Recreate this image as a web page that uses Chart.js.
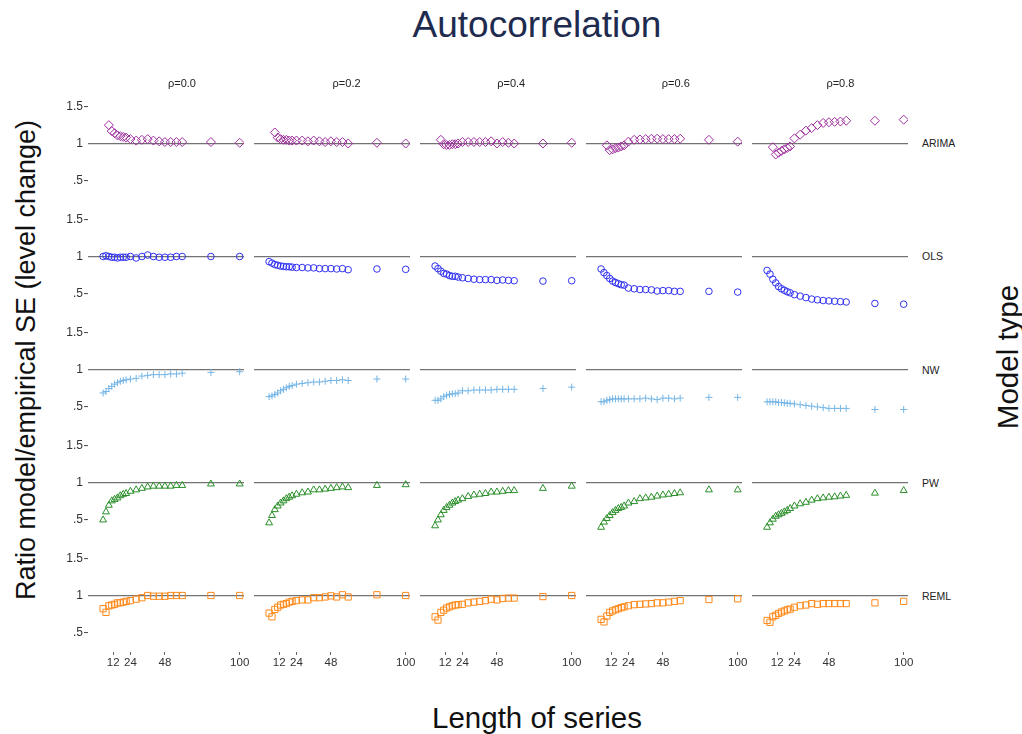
<!DOCTYPE html>
<html lang="en">
<head>
<meta charset="UTF-8">
<title>Autocorrelation</title>
<script src="https://cdn.jsdelivr.net/npm/chart.js"></script>
<style>
  body { margin: 0; background: #fff; font-family: "Liberation Sans", Arial, sans-serif; color: #333; }
  #page { position: relative; width: 1022px; height: 734px; overflow: hidden; }
  .panel { position: absolute; }
  .txt { position: absolute; white-space: nowrap; transform: translate(-50%, -50%); }
  .title { font-size: 37px; color: #1e2b4f; }
  .strip { font-size: 11px; color: #222; }
  .rowlab { font-size: 10.5px; color: #222; transform: translate(0, -50%); }
  .axtitle { font-size: 29.5px; color: #111; }
  .ytitle { font-size: 27px; color: #111; }
</style>
</head>
<body>
<div id="page"></div>
<script>
// facets and axes
const rhoLabels = ['ρ=0.0', 'ρ=0.2', 'ρ=0.4', 'ρ=0.6', 'ρ=0.8'];
const modelNames = ['ARIMA', 'OLS', 'NW', 'PW', 'REML'];
const seriesLength = [5, 7, 9, 11, 13, 15, 17, 19, 21, 24, 28, 32, 36, 40, 44, 48, 52, 56, 60, 80, 100];
const seriesLengthArima = [9, 11, 13, 15, 17, 19, 21, 24, 28, 32, 36, 40, 44, 48, 52, 56, 60, 80, 100];
const xTickValues = [12, 24, 48, 100];
const yTickValues = [0.5, 1, 1.5];

// ratio model SE / empirical SE
const arima00 = [1.25, 1.17, 1.14, 1.11, 1.10, 1.09, 1.08, 1.06, 1.04, 1.05, 1.06, 1.04, 1.03, 1.02, 1.02, 1.02, 1.02, 1.02, 1.01];
const arima02 = [1.15, 1.08, 1.06, 1.05, 1.05, 1.04, 1.04, 1.04, 1.04, 1.03, 1.04, 1.03, 1.02, 1.03, 1.02, 1.02, 1.0, 1.01, 1.0];
const arima04 = [1.05, 0.99, 0.98, 0.98, 0.99, 0.99, 1.0, 1.02, 1.02, 1.02, 1.02, 1.02, 1.03, 1.0, 1.02, 1.01, 1.0, 1.0, 1.01];
const arima06 = [0.975, 0.91, 0.92, 0.935, 0.945, 0.96, 0.975, 1.025, 1.05, 1.055, 1.06, 1.065, 1.065, 1.06, 1.06, 1.06, 1.065, 1.05, 1.025];
const arima08 = [0.95, 0.85, 0.875, 0.90, 0.92, 0.94, 0.96, 1.07, 1.12, 1.175, 1.21, 1.25, 1.28, 1.29, 1.295, 1.30, 1.31, 1.31, 1.325];

const ols00 = [1.0, 1.01, 1.0, 0.99, 0.99, 0.98, 0.99, 0.99, 0.99, 1.0, 0.98, 1.0, 1.02, 1.0, 0.99, 0.99, 0.99, 1.0, 1.0, 1.0, 1.0];
const ols02 = [0.93, 0.91, 0.89, 0.88, 0.87, 0.865, 0.86, 0.86, 0.855, 0.85, 0.85, 0.845, 0.845, 0.835, 0.835, 0.835, 0.83, 0.835, 0.82, 0.83, 0.825];
const ols04 = [0.87, 0.835, 0.80, 0.77, 0.76, 0.74, 0.73, 0.73, 0.72, 0.71, 0.70, 0.69, 0.685, 0.685, 0.685, 0.675, 0.68, 0.675, 0.67, 0.665, 0.67];
const ols06 = [0.83, 0.78, 0.74, 0.70, 0.665, 0.645, 0.63, 0.615, 0.61, 0.57, 0.56, 0.55, 0.55, 0.545, 0.53, 0.535, 0.535, 0.525, 0.525, 0.525, 0.515];
const ols08 = [0.81, 0.76, 0.69, 0.64, 0.59, 0.56, 0.54, 0.52, 0.505, 0.48, 0.46, 0.44, 0.42, 0.41, 0.40, 0.395, 0.39, 0.385, 0.38, 0.36, 0.35];

const nw00 = [0.68, 0.70, 0.74, 0.77, 0.80, 0.82, 0.84, 0.85, 0.86, 0.87, 0.88, 0.91, 0.92, 0.93, 0.93, 0.93, 0.94, 0.94, 0.95, 0.96, 0.97];
const nw02 = [0.63, 0.64, 0.66, 0.68, 0.71, 0.73, 0.75, 0.77, 0.78, 0.80, 0.81, 0.82, 0.83, 0.83, 0.84, 0.85, 0.85, 0.86, 0.85, 0.87, 0.87];
const nw04 = [0.58, 0.58, 0.60, 0.63, 0.65, 0.66, 0.67, 0.67, 0.68, 0.71, 0.71, 0.72, 0.72, 0.72, 0.72, 0.73, 0.73, 0.73, 0.73, 0.74, 0.76];
const nw06 = [0.56, 0.56, 0.58, 0.59, 0.60, 0.60, 0.60, 0.60, 0.60, 0.60, 0.60, 0.60, 0.61, 0.60, 0.59, 0.61, 0.61, 0.60, 0.61, 0.62, 0.62];
const nw08 = [0.56, 0.56, 0.56, 0.56, 0.55, 0.55, 0.545, 0.54, 0.54, 0.53, 0.52, 0.51, 0.50, 0.49, 0.48, 0.47, 0.47, 0.47, 0.47, 0.455, 0.455];

const pw00 = [0.49, 0.60, 0.69, 0.75, 0.77, 0.79, 0.82, 0.84, 0.85, 0.88, 0.90, 0.92, 0.94, 0.95, 0.95, 0.95, 0.95, 0.96, 0.96, 0.98, 0.98];
const pw02 = [0.45, 0.55, 0.63, 0.68, 0.72, 0.75, 0.78, 0.80, 0.82, 0.84, 0.86, 0.87, 0.90, 0.90, 0.91, 0.92, 0.93, 0.94, 0.93, 0.96, 0.97];
const pw04 = [0.41, 0.49, 0.56, 0.62, 0.66, 0.69, 0.72, 0.74, 0.76, 0.78, 0.81, 0.83, 0.84, 0.85, 0.87, 0.87, 0.88, 0.89, 0.89, 0.92, 0.95];
const pw06 = [0.39, 0.46, 0.51, 0.55, 0.59, 0.62, 0.645, 0.66, 0.68, 0.72, 0.74, 0.78, 0.79, 0.80, 0.815, 0.83, 0.84, 0.85, 0.86, 0.90, 0.90];
const pw08 = [0.39, 0.45, 0.50, 0.54, 0.56, 0.58, 0.60, 0.62, 0.645, 0.68, 0.71, 0.73, 0.76, 0.78, 0.79, 0.80, 0.805, 0.815, 0.825, 0.855, 0.89];

const reml00 = [0.82, 0.77, 0.86, 0.87, 0.88, 0.90, 0.90, 0.91, 0.92, 0.93, 0.95, 0.97, 1.0, 0.99, 0.99, 0.99, 1.0, 1.0, 1.0, 1.0, 1.0];
const reml02 = [0.76, 0.71, 0.81, 0.84, 0.87, 0.88, 0.89, 0.91, 0.92, 0.93, 0.94, 0.94, 0.97, 0.97, 0.98, 0.995, 0.98, 1.01, 0.98, 1.01, 1.0];
const reml04 = [0.71, 0.665, 0.77, 0.80, 0.83, 0.845, 0.86, 0.87, 0.875, 0.88, 0.90, 0.91, 0.92, 0.93, 0.95, 0.94, 0.96, 0.965, 0.965, 0.985, 1.0];
const reml06 = [0.675, 0.64, 0.72, 0.77, 0.79, 0.805, 0.82, 0.835, 0.845, 0.86, 0.875, 0.88, 0.885, 0.89, 0.90, 0.90, 0.91, 0.92, 0.93, 0.945, 0.955];
const reml08 = [0.66, 0.635, 0.71, 0.73, 0.755, 0.775, 0.79, 0.805, 0.815, 0.84, 0.86, 0.87, 0.89, 0.88, 0.89, 0.89, 0.89, 0.89, 0.89, 0.90, 0.92];

// one row of panels per model
const rows = [
  { x: seriesLengthArima, vals: [arima00, arima02, arima04, arima06, arima08], style: 'rectRot', radius: 4.5, color: '#9c2e9c' },
  { x: seriesLength, vals: [ols00, ols02, ols04, ols06, ols08], style: 'circle', radius: 3.3, color: '#3030f2' },
  { x: seriesLength, vals: [nw00, nw02, nw04, nw06, nw08], style: 'cross', radius: 3.5, color: '#74b5e6' },
  { x: seriesLength, vals: [pw00, pw02, pw04, pw06, pw08], style: 'triangle', radius: 4, color: '#2a8f2a' },
  { x: seriesLength, vals: [reml00, reml02, reml04, reml06, reml08], style: 'rect', radius: 4.4, color: '#ff8a1c' }
];

// layout
const panelLeft = 88, pitchX = 165.9, panelW = 156;
const panelTop = 86.8, pitchY = 113.1, panelH = 113;
const yAxisW = 40, xAxisH = 24, rightRoom = 10;

Chart.defaults.font.family = '"Liberation Sans", Arial, sans-serif';
const page = document.getElementById('page');

function addText(cls, text, x, y, rot) {
  const d = document.createElement('div');
  d.className = 'txt ' + cls;
  d.textContent = text;
  d.style.left = x + 'px';
  d.style.top = y + 'px';
  if (rot) d.style.transform = 'translate(-50%, -50%) rotate(' + rot + 'deg)';
  page.appendChild(d);
}

rows.forEach((row, r) => {
  row.vals.forEach((vals, c) => {
    const isLeft = c === 0;
    const isBottom = r === rows.length - 1;
    const w = panelW + (isLeft ? yAxisW : 0) + (isBottom ? rightRoom : 0);
    const h = panelH + (isBottom ? xAxisH : 0);
    const box = document.createElement('div');
    box.className = 'panel';
    box.style.left = (panelLeft + c * pitchX - (isLeft ? yAxisW : 0)) + 'px';
    box.style.top = (panelTop + r * pitchY) + 'px';
    const canvas = document.createElement('canvas');
    canvas.width = w; canvas.height = h;
    canvas.style.width = w + 'px'; canvas.style.height = h + 'px';
    box.appendChild(canvas);
    page.appendChild(box);

    new Chart(canvas, {
      type: 'scatter',
      data: {
        datasets: [{
          data: row.x.map((x, i) => ({ x: x, y: vals[i] })),
          pointStyle: row.style,
          pointRadius: row.radius,
          pointBorderWidth: 1,
          borderColor: row.color,
          backgroundColor: 'rgba(0,0,0,0)'
        }]
      },
      options: {
        responsive: false,
        animation: false,
        events: [],
        layout: { padding: { left: 0, top: 0, bottom: 0, right: isBottom ? rightRoom : 0 }, autoPadding: false },
        plugins: { legend: { display: false }, tooltip: { enabled: false } },
        scales: {
          x: {
            type: 'linear', min: -5.5, max: 103,
            display: isBottom,
            afterBuildTicks: s => { s.ticks = xTickValues.map(v => ({ value: v })); },
            afterFit: s => { s.height = isBottom ? xAxisH : 0; s.paddingLeft = 0; s.paddingRight = 0; },
            grid: { drawOnChartArea: false, drawTicks: true, tickLength: 3, tickColor: '#666' },
            border: { display: false },
            ticks: { padding: 1, color: '#333', font: { size: 11.5 }, maxRotation: 0, autoSkip: false }
          },
          y: {
            type: 'linear', min: 0.23, max: 1.77,
            afterBuildTicks: s => { s.ticks = yTickValues.map(v => ({ value: v })); },
            afterFit: s => { s.width = isLeft ? yAxisW : 0; s.paddingTop = 0; s.paddingBottom = 0; },
            grid: {
              color: ctx => (ctx.tick && ctx.tick.value === 1) ? '#737373' : 'rgba(0,0,0,0)',
              lineWidth: 1.2,
              drawTicks: isLeft,
              tickLength: 4,
              tickWidth: 1,
              tickColor: ctx => (ctx.tick && ctx.tick.value === 1) ? 'rgba(0,0,0,0)' : '#444'
            },
            border: { display: false },
            ticks: {
              display: isLeft, padding: 1, color: '#333', font: { size: 12 },
              callback: v => v === 0.5 ? '.5' : String(v)
            }
          }
        }
      }
    });
  });
});

// texts
addText('title', 'Autocorrelation', 537, 25);
rhoLabels.forEach((t, c) => addText('strip', t, 182 + c * 164.6, 83));
modelNames.forEach((t, r) => {
  const d = document.createElement('div');
  d.className = 'txt rowlab';
  d.textContent = t;
  d.style.left = '922px';
  d.style.top = (panelTop + r * pitchY + panelH / 2) + 'px';
  page.appendChild(d);
});
addText('ytitle', 'Ratio model/empirical SE (level change)', 26, 360, -90);
addText('axtitle', 'Model type', 1008, 357, -90);
addText('axtitle', 'Length of series', 537, 718);
</script>
</body>
</html>
